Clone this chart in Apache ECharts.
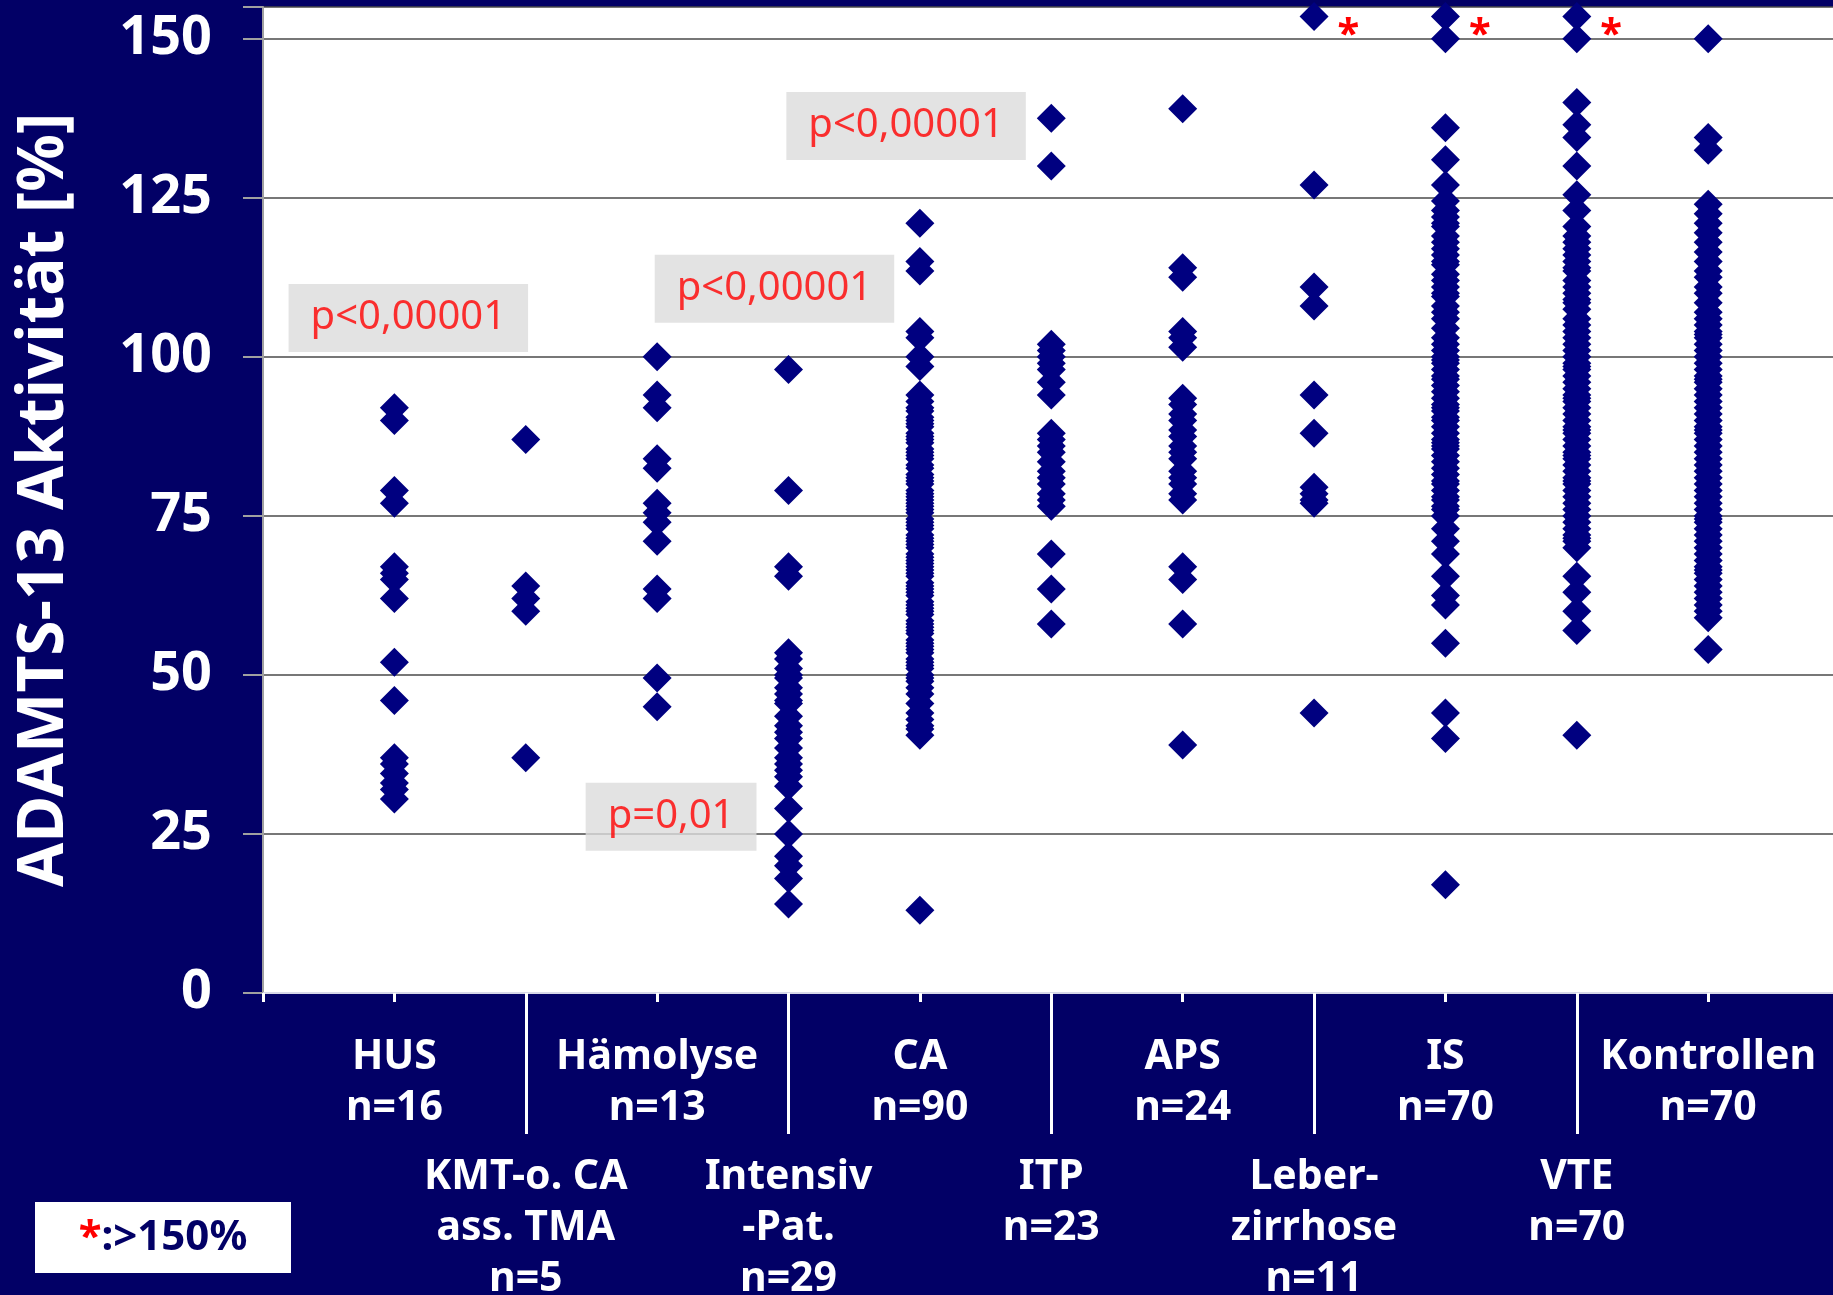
<!DOCTYPE html>
<html>
<head>
<meta charset="utf-8">
<title>ADAMTS-13 Aktivität</title>
<script src="https://cdn.jsdelivr.net/npm/echarts@6/dist/echarts.min.js"></script>
<style>
  html, body { margin: 0; padding: 0; background: #020066; }
  #chart { width: 1833px; height: 1295px; }
</style>
</head>
<body>
<div id="chart"></div>
<script>
// Patient groups (left to right) and their sizes
const categories = ['HUS', 'KMT-o. CA\nass. TMA', 'Hämolyse', 'Intensiv\n-Pat.', 'CA', 'ITP', 'APS',
  'Leber-\nzirrhose', 'IS', 'VTE', 'Kontrollen'];
const groupSizes = [16, 5, 13, 29, 90, 23, 24, 11, 70, 70, 70];

// ADAMTS-13 activity [%] per patient; values above 150 % are drawn at the top edge
const hus = [92, 90, 79, 77, 67, 66, 65, 62, 52, 46, 37, 36, 34.5, 33, 32, 30.5];
const kmt = [87, 64, 62, 60, 37];
const haemolyse = [100, 94, 92, 84, 82.5, 77, 75.5, 74, 71, 63.5, 62, 49.5, 45];
const intensiv = [98, 79, 67, 65.5, 53.5, 52.5, 51, 50, 49.5, 48, 47, 46, 45.5, 43.5,
  42, 41, 40, 38.5, 37, 36, 35, 34, 32.5, 29, 25, 21.5, 20, 18, 14];
const ca = [121, 115, 113.5, 104, 103, 100, 98.5,
  94, 93, 92, 91.5, 90.5, 90, 89.5, 89, 88, 87.5,
  87, 86.5, 85.5, 85, 84.5, 84, 83, 82.5, 81.5, 81,
  80.5, 80, 79, 78.5, 78, 77.5, 77, 76.5, 76, 75.5,
  74.5, 74, 73.5, 73, 72, 71.5, 71, 70.5, 70, 69,
  68.5, 68, 67.5, 67, 66.5, 66, 65.5, 64.5, 64, 63.5,
  63, 62.5, 61.5, 61, 60.5, 60, 59.5, 58.5, 58, 57.5,
  57, 56.5, 55.5, 55, 54.5, 54, 53.5, 52.5, 52, 51.5,
  51, 50, 49.5, 49, 48, 47, 45.5, 44, 43, 42,
  41.5, 40.5, 13];
const itp = [137.5, 130, 102, 101, 100, 99, 98, 96, 94, 88, 87, 86, 85, 83.5, 82, 81, 80,
  78.5, 77.5, 76.5, 69, 63.5, 58];
const aps = [139, 114, 112.5, 104, 103, 101.5, 93.5, 92.5, 91, 90, 88.5, 87.5, 86, 85, 84,
  82, 81, 80, 78.5, 77.5, 67, 65, 58, 39];
const leber = [153.5, 127, 111, 108, 94, 88, 79.5, 78.5, 77.5, 77, 44];
const isGroup = [153.5, 150, 136, 131, 127,
  124.5, 123, 122, 121, 120.5, 119, 118, 117, 116, 115,
  114.5, 113, 112, 111, 110, 109.5, 108, 107, 106, 104.5,
  103, 102, 101, 100, 99.5, 99, 98, 97, 96.5, 95.5,
  94.5, 93.5, 92.5, 92, 91.5, 90.5, 90, 89, 88, 87,
  86.5, 86, 85.5, 84.5, 83.5, 82.5, 81.5, 80.5, 80, 79,
  78, 77.5, 76.5, 76, 75,
  73, 71, 69, 65.5, 62.5, 61, 55, 44, 40, 17];
const vte = [153.5, 150, 140, 136.5, 134.5, 130, 125.5, 123,
  120.5, 119, 118, 117, 116, 115, 114, 113.5, 112, 111,
  110, 109, 108.5, 107.5, 106, 105, 104, 103, 102, 101,
  100, 99, 98.5, 98, 97, 96, 95, 94, 93.5, 93,
  92, 91, 90, 89, 88.5, 88, 87, 86, 85, 84.5,
  84, 83, 82, 81, 80.5, 80, 79, 78, 77, 76,
  75, 74, 73, 72, 71.5, 71, 70,
  65.5, 63, 60, 57, 40.5];
const kontrollen = [150, 134.5, 132.5, 124, 122.5,
  121, 119.5, 118, 116.5, 115, 113.5, 112.5, 111, 110, 108.5,
  107, 106, 105, 104, 103.5, 103, 102, 101, 100, 99,
  98, 97, 96.5, 96, 95, 94, 93, 92, 91, 90,
  89, 88.5, 88, 87, 86, 85, 84, 83, 82, 81,
  80, 79, 78, 77, 76, 75, 74.5, 74, 73, 72,
  71, 70, 69, 68, 67, 66.5, 66, 65, 64, 63,
  62, 61, 60, 59, 54];

const groups = [hus, kmt, haemolyse, intensiv, ca, itp, aps, leber, isGroup, vte, kontrollen];

// Y axis ticks
const yTicks = [0, 25, 50, 75, 100, 125, 150];
const ceilingValue = 150;

// Significance notes: [group position, activity %, text]
const annotations = [
  [1.106, 106.1, 'p<0,00001'],
  [3.893, 110.7, 'p<0,00001'],
  [4.895, 136.3, 'p<0,00001'],
  [3.106, 27.7, 'p=0,01']
];

const FONT = '"Noto Sans", sans-serif';
const positions = categories.map((c, i) => i + 1);
const upperRow = positions.filter(p => p % 2 === 1);
const lowerRow = positions.filter(p => p % 2 === 0);
const tickPositions = [0].concat(positions);

function groupLabel(value) {
  const i = Math.round(value) - 1;
  if (i < 0 || i >= categories.length) return '';
  return categories[i] + '\nn=' + groupSizes[i];
}

const points = [];
groups.forEach((vals, i) => {
  vals.forEach(v => {
    if (v > ceilingValue) {
      points.push({ value: [i + 1, v], label: { show: true } });
    } else {
      points.push([i + 1, v]);
    }
  });
});

const axisLabelStyle = {
  color: '#ffffff', fontFamily: FONT, fontWeight: 'bold', fontSize: 41, lineHeight: 51
};

const chart = echarts.init(document.getElementById('chart'), null, { renderer: 'canvas' });
chart.setOption({
  backgroundColor: '#020066',
  animation: false,
  grid: {
    left: 263, right: 0, top: 7, bottom: 302,
    outerBoundsMode: 'none',
    show: true, backgroundColor: '#ffffff', borderWidth: 0
  },
  xAxis: [
    {
      type: 'value', min: 0, max: 11.95, position: 'bottom',
      axisLine: { show: true, onZero: false, lineStyle: { color: '#d8d8e8', width: 2 } },
      axisTick: { show: true, customValues: tickPositions, length: 9, lineStyle: { color: '#ffffff', width: 3 } },
      axisLabel: Object.assign({ show: true, customValues: upperRow, margin: 39, formatter: groupLabel }, axisLabelStyle),
      splitLine: { show: false }
    },
    {
      type: 'value', min: 0, max: 11.95, position: 'bottom',
      axisLine: { show: false },
      axisTick: { show: true, customValues: lowerRow, length: 141, lineStyle: { color: '#ffffff', width: 3 } },
      axisLabel: Object.assign({ show: true, customValues: lowerRow, margin: 159, formatter: groupLabel }, axisLabelStyle),
      splitLine: { show: false }
    }
  ],
  yAxis: {
    type: 'value', min: 0, max: 155, interval: 25,
    name: 'ADAMTS-13 Aktivität [%]', nameLocation: 'middle', nameGap: 186, nameRotate: 90,
    nameTextStyle: { color: '#ffffff', fontFamily: FONT, fontWeight: 'bold', fontSize: 64 },
    axisLine: { show: true, lineStyle: { color: '#a0a0a0', width: 2 } },
    axisTick: { show: true, length: 20, lineStyle: { color: '#a0a0a0', width: 2 } },
    axisLabel: {
      color: '#ffffff', fontFamily: FONT, fontWeight: 'bold', fontSize: 54, margin: 51,
      formatter: v => (yTicks.indexOf(v) >= 0 ? String(v) : '')
    },
    splitLine: { show: true, lineStyle: { color: '#4a4a4a', width: 1.5 } }
  },
  series: [
    {
      type: 'scatter',
      symbol: 'diamond',
      symbolSize: 29,
      itemStyle: { color: '#000080', opacity: 1 },
      label: {
        show: false, position: 'right', distance: 9, formatter: '*',
        color: '#ff0000', fontFamily: FONT, fontWeight: 'bold', fontSize: 40, offset: [0, 19]
      },
      data: points,
      z: 3
    },
    {
      type: 'scatter',
      symbol: 'circle',
      symbolSize: 1,
      itemStyle: { color: 'rgba(0,0,0,0)' },
      silent: true,
      label: {
        show: true, position: 'inside', formatter: '{b}',
        color: '#ff0000', fontFamily: FONT, fontSize: 40, lineHeight: 40,
        backgroundColor: '#dcdcdc', padding: [14, 22]
      },
      data: annotations.map(a => ({ value: [a[0], a[1]], name: a[2] })),
      z: 2
    }
  ],
  graphic: [
    {
      type: 'group', left: 35, top: 1202,
      children: [
        { type: 'rect', shape: { x: 0, y: 0, width: 256, height: 71 }, style: { fill: '#ffffff' } },
        {
          type: 'text', x: 128, y: 36,
          style: {
            text: '{r|*}{n|:>150%}', align: 'center', verticalAlign: 'middle',
            rich: {
              r: { fill: '#ff0000', fontFamily: FONT, fontWeight: 'bold', fontSize: 42 },
              n: { fill: '#020066', fontFamily: FONT, fontWeight: 'bold', fontSize: 42 }
            }
          }
        }
      ]
    }
  ]
});
</script>
</body>
</html>
